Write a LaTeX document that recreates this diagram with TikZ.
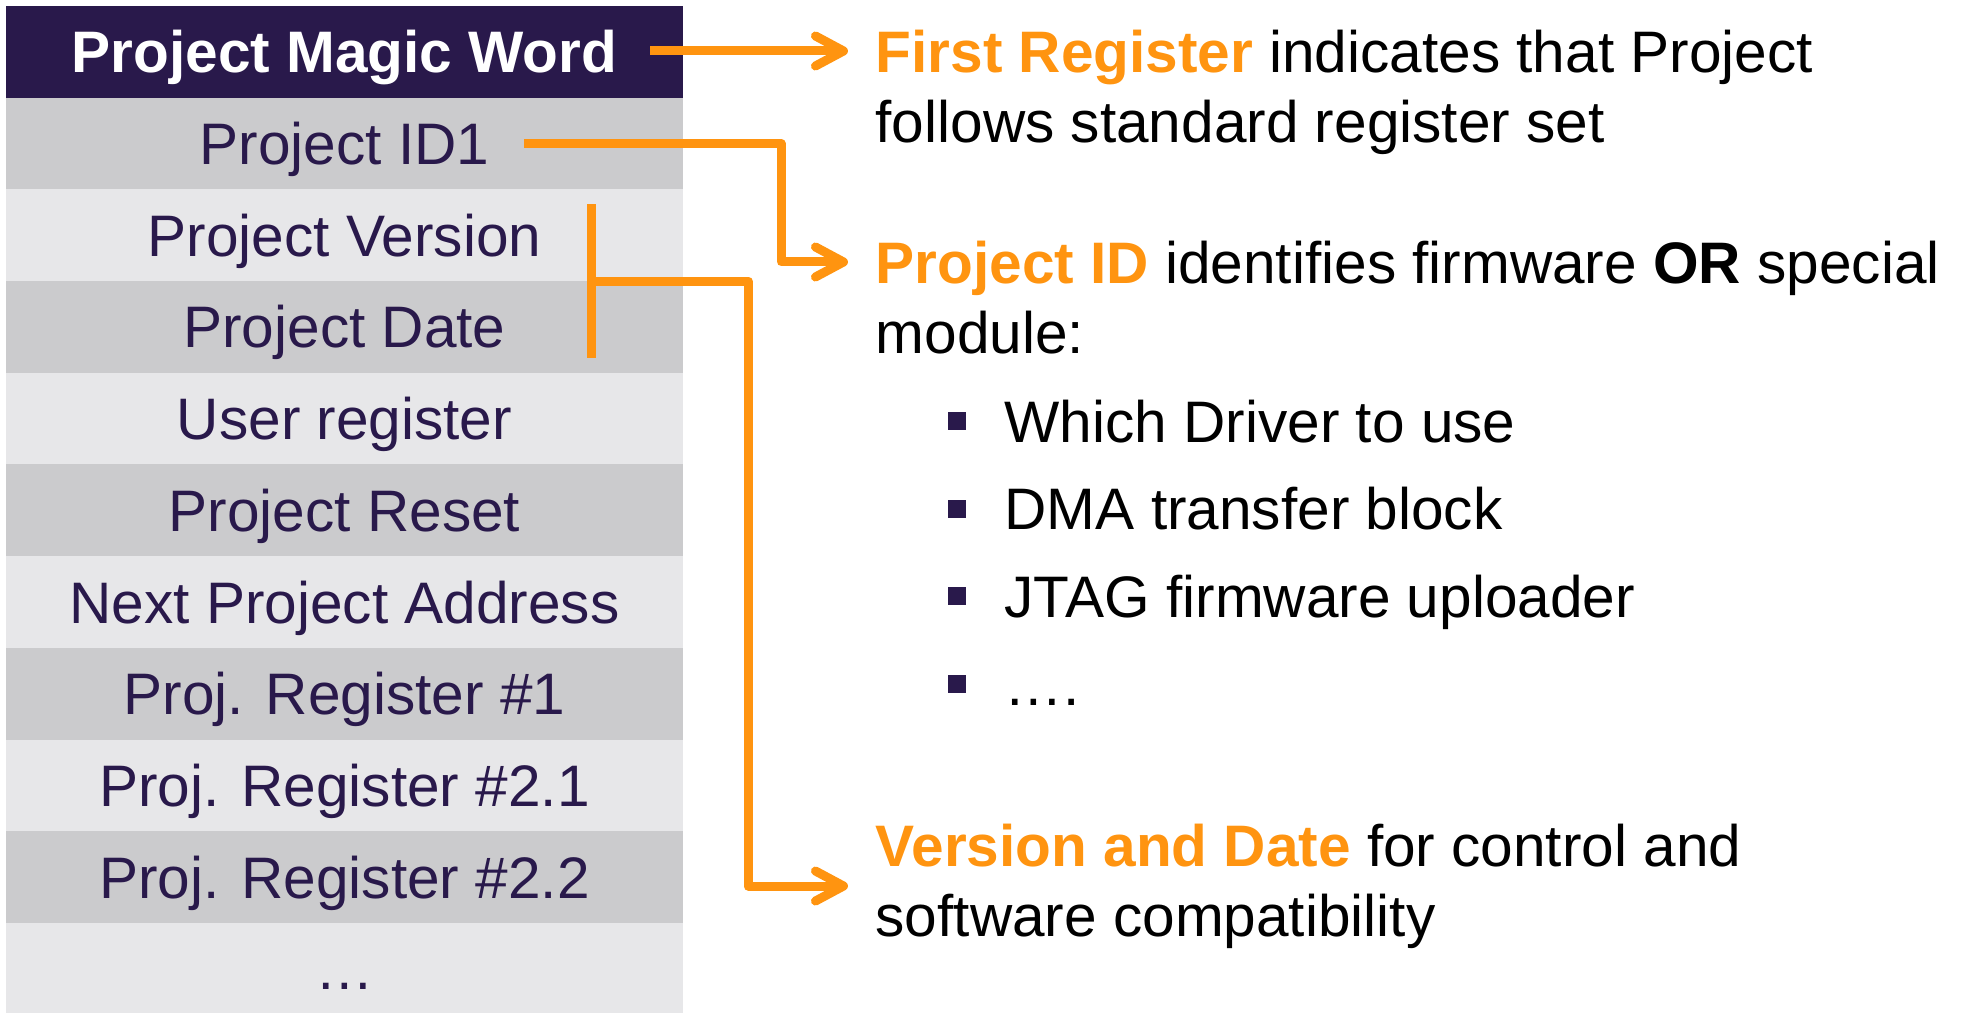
\documentclass[tikz,border=0pt]{standalone}
\usepackage{fontspec}
\setmainfont{Liberation Sans}
\usetikzlibrary{arrows.meta,positioning}
\definecolor{regNavy}{HTML}{29194B}
\definecolor{regOrange}{HTML}{FF9410}
\definecolor{rowDark}{HTML}{CBCBCD}
\definecolor{rowLight}{HTML}{E7E7E9}

\begin{document}
\begin{tikzpicture}[x=0.01cm,y=-0.01cm,font=\fontsize{16.65}{20}\selectfont,
  reg/.style={minimum width=6.77cm,minimum height=0.917cm,inner sep=0pt,outer sep=0pt,
    text height=0.42cm,text depth=0pt,text=regNavy},
  txt/.style={anchor=base west,inner sep=0pt,text height=0.42cm,text depth=0pt},
  wire/.style={regOrange,line width=0.09cm,line join=round},
  conn/.style={wire,-{Straight Barb[length=0.28cm,width=0.3cm,round]}}]
\useasboundingbox (0,0) rectangle (1961,1012);
\node[reg,fill=regNavy,text=white] (r0) at (344.5,51.85) {\bfseries Project Magic Word};
\foreach \t/\c [count=\i] in {Project ID1/rowDark,Project Version/rowLight,Project Date/rowDark,
    User register/rowLight,Project Reset/rowDark,Next Project Address/rowLight,
    Proj. Register \#1/rowDark,Proj. Register \#2.1/rowLight,Proj. Register \#2.2/rowDark,…/rowLight}
  \node[reg,fill=\c] (r\i) at (344.5,51.85+91.7*\i) {\t};

\node[txt] (first) at (875,72) {\textcolor{regOrange}{\bfseries First Register} indicates that Project};
\node[txt] (follows) at (875,142) {follows standard register set};
\node[txt] (projid) at (875,283) {\textcolor{regOrange}{\bfseries Project ID} identifies firmware \textbf{OR} special};
\node[txt] (module) at (875,353) {module:};
\foreach \t [count=\i from 0] in {Which Driver to use,DMA transfer block,JTAG firmware uploader,….}{
  \node[fill=regNavy,minimum size=0.18cm,inner sep=0pt] (b\i) at (957,421+87.7*\i) {};
  \node[txt] (item\i) at (1004,442+87.7*\i) {\t};
}
\node[txt] (verdate) at (875,866) {\textcolor{regOrange}{\bfseries Version and Date} for control and};
\node[txt] (software) at (875,936) {software compatibility};

\coordinate (vd) at ([xshift=-0.92cm]r2.south east);
\draw[wire] ([yshift=0.77cm]vd) -- ([yshift=-0.77cm]vd);
\draw[conn] ([xshift=-0.33cm]r0.east |- first.west) -- ([xshift=-0.27cm]first.west);
\draw[conn] ([xshift=-1.59cm]r1.east) -- ++(257,0) |- ([xshift=-0.27cm]projid.west);
\draw[conn] (vd) -- ++(157,0) |- ([xshift=-0.27cm,yshift=-0.41cm]verdate.west);
\end{tikzpicture}
\end{document}
